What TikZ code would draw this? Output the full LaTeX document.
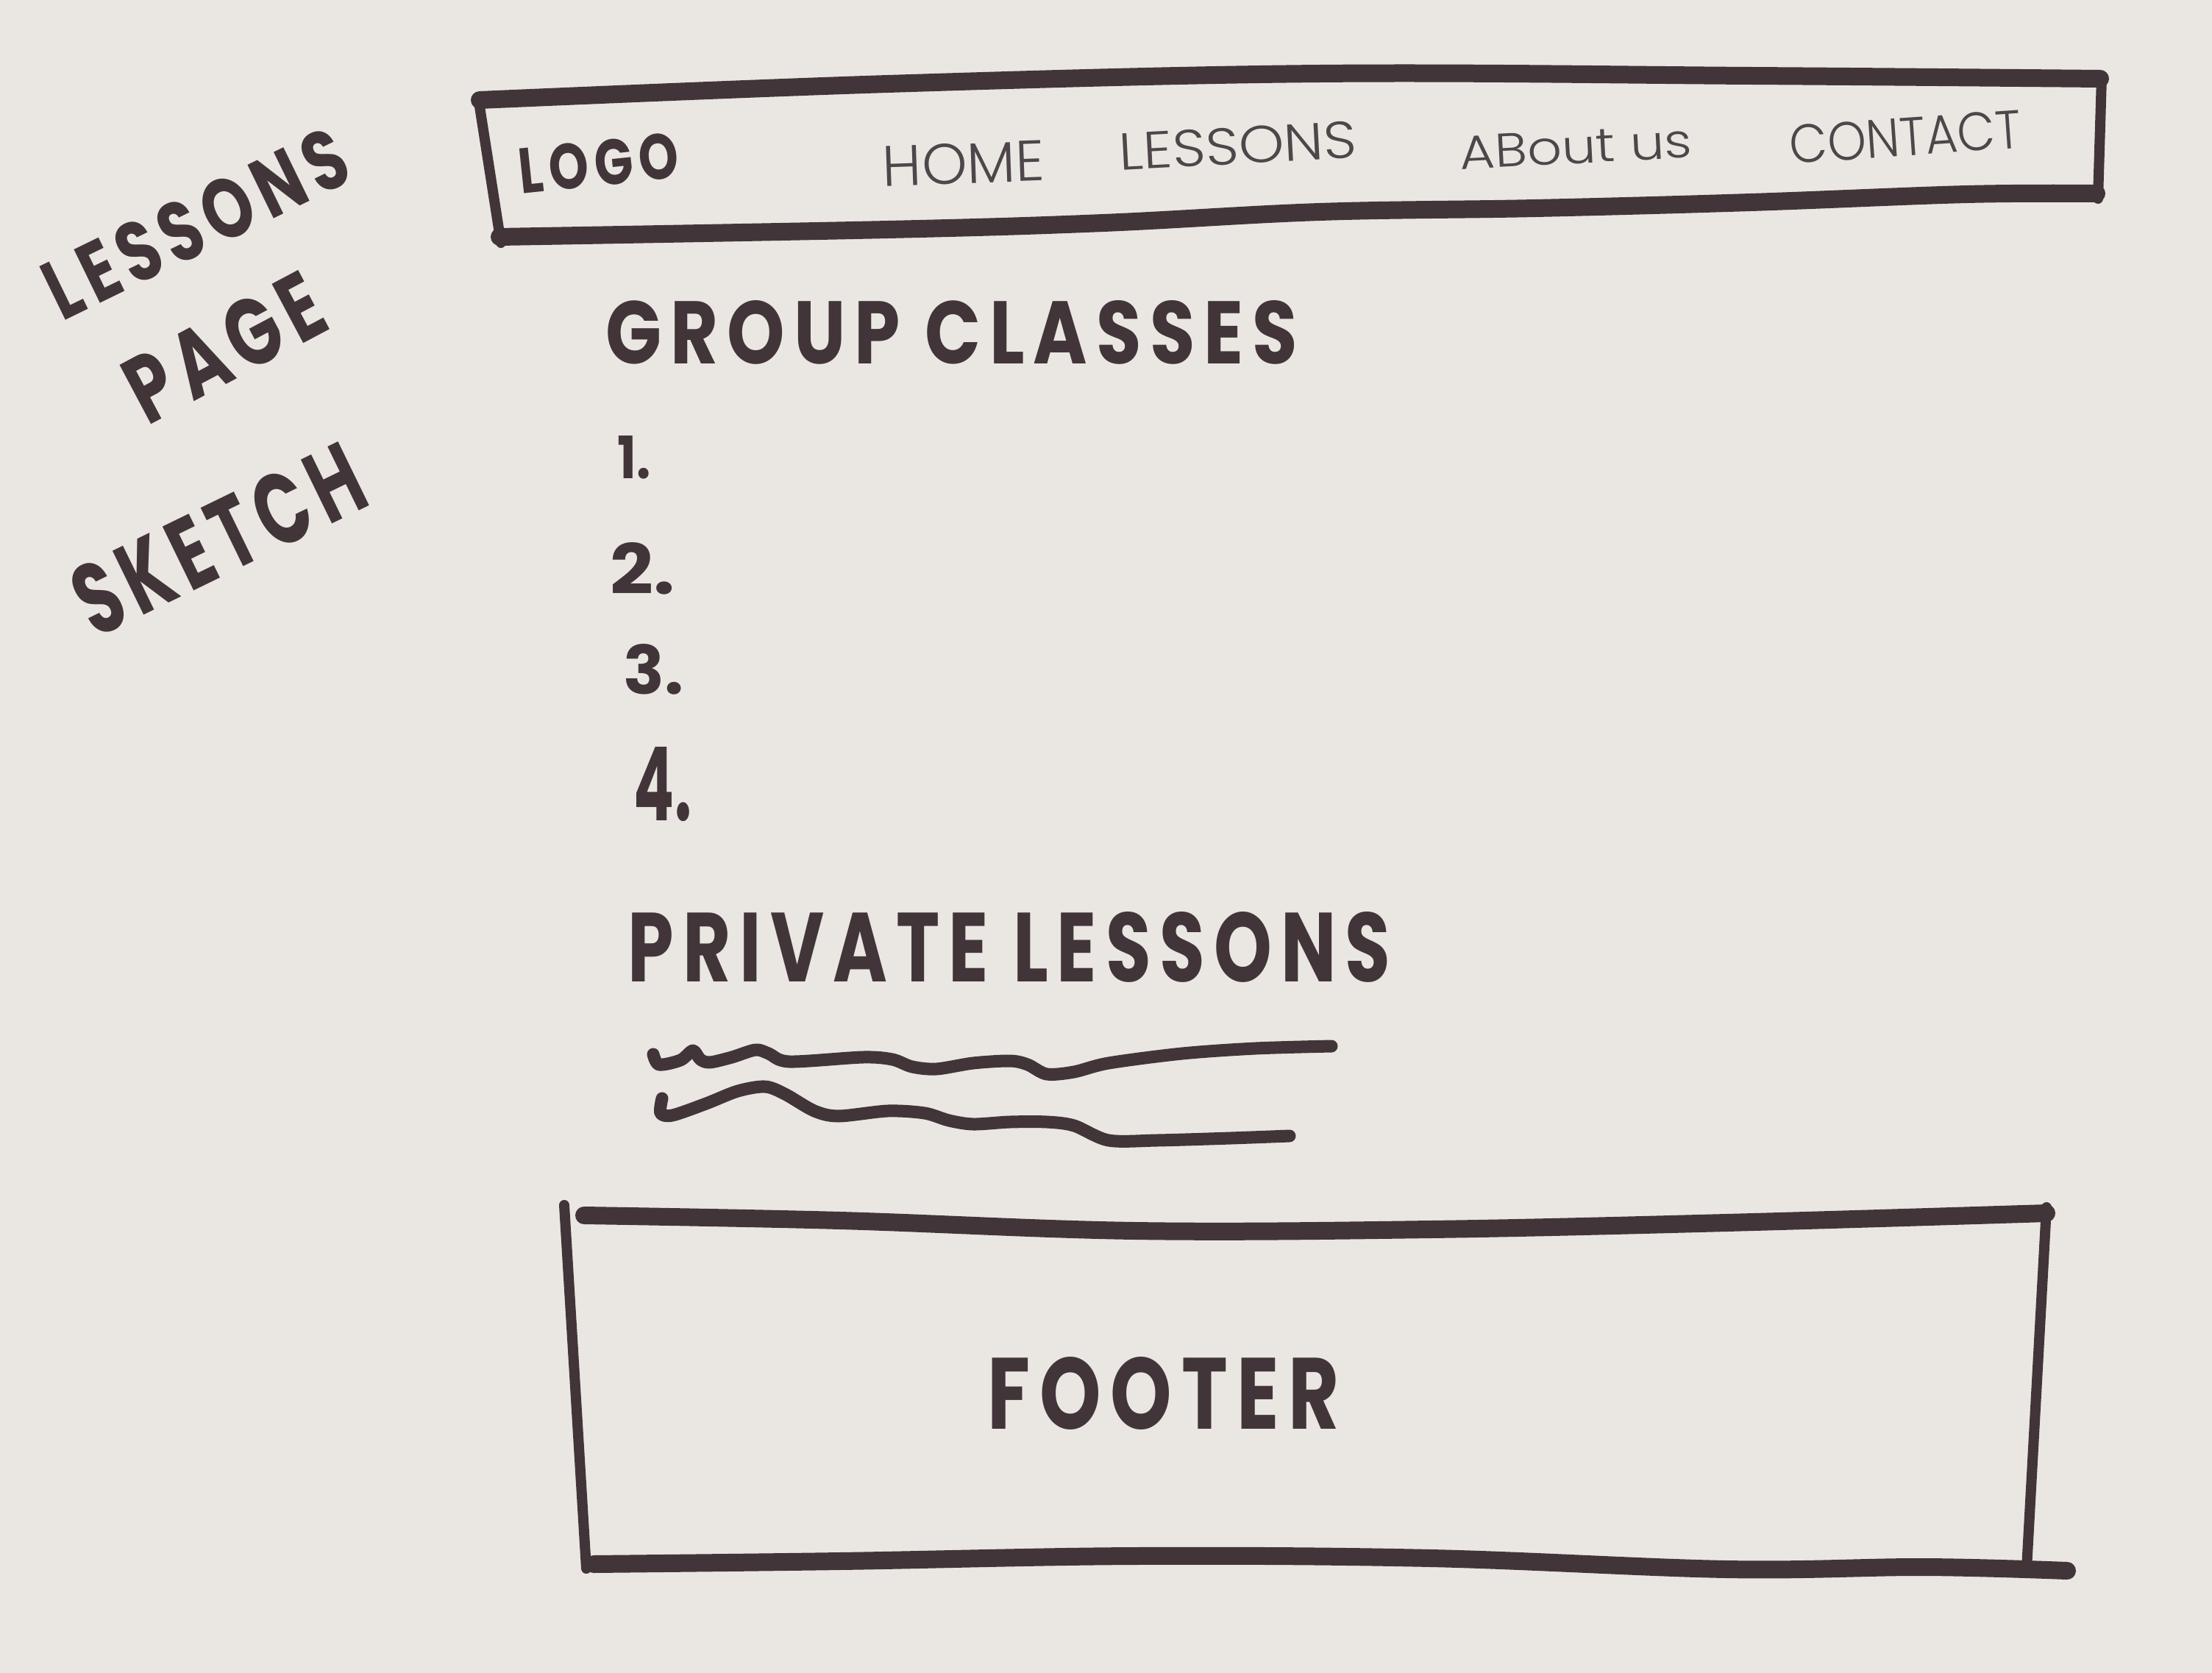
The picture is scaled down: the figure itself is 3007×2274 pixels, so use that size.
\documentclass[tikz,border=0pt]{standalone}
\usepackage{fontspec}
\usepackage{graphicx}
\setmainfont{Poppins}
\newfontfamily\penfont{Poppins Light}
\newfontfamily\markfont{Poppins}[LetterSpace=12]
\definecolor{paper}{RGB}{234,231,226}
\definecolor{ink}{RGB}{66,53,57}
\definecolor{penink}{RGB}{78,70,74}
% marker lettering and fine-pen lettering, stretched to a given width and cap height
\newcommand{\markertext}[3]{\resizebox{#1pt}{#2pt}{\markfont\bfseries #3}}
\newcommand{\markerdigit}[3]{\resizebox{#1pt}{#2pt}{\bfseries #3}}
\newcommand{\pentext}[3]{\resizebox{#1pt}{#2pt}{\penfont #3}}
\begin{document}
\begin{tikzpicture}[x=1pt,y=-1pt,
  every node/.style={inner sep=0pt,outer sep=0pt,text=ink},
  pennode/.style={text=penink},
  heavy/.style={draw=ink,line width=24pt,line cap=round,line join=round},
  side/.style={draw=ink,line width=14pt,line cap=round},
  scribble/.style={draw=ink,line width=17pt,line cap=round,line join=round}]
\fill[paper] (0,0) rectangle (3007,2274);
\useasboundingbox (0,0) rectangle (3007,2274);

% title, written at a slant
\node[rotate=26] (t1) at (266,304) {\markertext{443}{82}{LESSONS}};
\node[rotate=28] (t2) at (305,472) {\markertext{285}{92}{PAGE}};
\node[rotate=26] (t3) at (297,733) {\markertext{420}{98}{SKETCH}};

% navigation bar
\draw[side] (650,132) -- (681,330);
\draw[side] (2857,105) -- (2852,270);
\draw[heavy] plot[smooth,tension=0.6] coordinates {(652,136) (1207,114) (1794,100) (2380,103) (2855,107)};
\draw[heavy] plot[smooth,tension=0.6] coordinates {(679,322) (1207,312) (1500,303) (1794,288) (2087,283) (2380,275) (2674,264) (2850,263)};
\node[rotate=6] (logo) at (814,222) {\markertext{218}{62}{LOGO}};
\node[pennode,rotate=2] (home) at (1310,222) {\pentext{220}{55}{HOME}};
\node[pennode,rotate=3] (lessons) at (1683,198) {\pentext{323}{50}{LESSONS}};
\node[pennode,rotate=3] (about) at (2142,200) {\pentext{316}{45}{ABout us}};
\node[pennode,rotate=4] (contact) at (2590,186) {\pentext{315}{52}{CONTACT}};

% group classes list
\node (group) at (1294,452) {\markertext{940}{86}{GROUP CLASSES}};
\node (n1) at (862,622) {\markerdigit{45}{58}{1.}};
\node (n2) at (874,773) {\markerdigit{88}{70}{2.}};
\node (n3) at (889,910) {\markerdigit{82}{68}{3.}};
\node (n4) at (901,1066) {\markerdigit{78}{100}{4.}};

% private lessons with placeholder scribbles
\node (private) at (1372,1287) {\markertext{1036}{95}{PRIVATE LESSONS}};
\draw[scribble] plot[smooth,tension=0.5] coordinates {(888,1433) (896,1447) (925,1441) (942,1428) (952,1440) (965,1444) (995,1437) (1027,1427) (1045,1432) (1073,1443) (1173,1437) (1213,1440) (1240,1450) (1273,1453) (1323,1445) (1373,1442) (1397,1447) (1423,1460) (1460,1457) (1507,1445) (1607,1432) (1707,1425) (1810,1422)};
\draw[scribble] plot[smooth,tension=0.5] coordinates {(900,1493) (898,1513) (914,1516) (960,1500) (1003,1483) (1040,1477) (1067,1487) (1107,1510) (1140,1517) (1207,1510) (1257,1513) (1290,1523) (1323,1528) (1373,1525) (1423,1525) (1460,1530) (1507,1550) (1573,1550) (1673,1547) (1753,1544)};

% footer box
\draw[side] (767,1638) -- (797,2132);
\draw[side] (2782,1641) -- (2755,2132);
\draw[heavy] plot[smooth,tension=0.6] coordinates {(794,1652) (1142,1659) (1543,1673) (1945,1671) (2347,1662) (2782,1649)};
\draw[heavy] plot[smooth,tension=0.6] coordinates {(807,2126) (1142,2122) (1543,2115) (1945,2118) (2347,2133) (2615,2130) (2810,2135)};
\node (footer) at (1582,1894) {\markertext{478}{98}{FOOTER}};
\end{tikzpicture}
\end{document}
